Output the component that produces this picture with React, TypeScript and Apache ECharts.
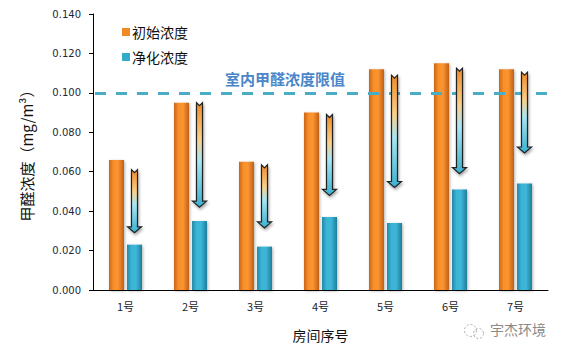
import React, { useEffect, useRef } from "react";
import * as echarts from "echarts";

const categories = ["1号", "2号", "3号", "4号", "5号", "6号", "7号"];
const initialValues = [0.066, 0.095, 0.065, 0.090, 0.112, 0.115, 0.112];
const purifiedValues = [0.023, 0.035, 0.022, 0.037, 0.034, 0.051, 0.054];
const arrowStart = [0.061, 0.095, 0.0635, 0.089, 0.109, 0.1125, 0.1105];
const arrowEnd = [0.029, 0.042, 0.0315, 0.048, 0.052, 0.059, 0.0695];
const limitValue = 0.1;
const yTicks = { min: 0, max: 0.14, interval: 0.02 };

const orangeGrad = new echarts.graphic.LinearGradient(0, 0, 1, 0, [
  { offset: 0, color: "#c9661a" },
  { offset: 0.3, color: "#f98f2a" },
  { offset: 0.6, color: "#fb9532" },
  { offset: 1, color: "#c25f16" },
]);
const blueGrad = new echarts.graphic.LinearGradient(0, 0, 1, 0, [
  { offset: 0, color: "#2288a6" },
  { offset: 0.3, color: "#3bb4d6" },
  { offset: 0.6, color: "#3db6d8" },
  { offset: 1, color: "#1f7e9b" },
]);

export default function App() {
  const ref = useRef<HTMLDivElement>(null);
  useEffect(() => {
    if (!ref.current) return;
    const chart = echarts.init(ref.current, null, { renderer: "svg" });
    const arrowData = categories.map((_, i) => [i, arrowStart[i], arrowEnd[i]]);
    chart.setOption({
      animation: false,
      backgroundColor: "#ffffff",
      grid: { left: 93, right: 14, top: 14, bottom: 63 },
      legend: {
        data: [
          { name: "初始浓度", itemStyle: { color: "#f08a24" } },
          { name: "净化浓度", itemStyle: { color: "#36aacb" } },
        ],
        orient: "vertical",
        left: 117,
        top: 20,
        icon: "rect",
        itemWidth: 8,
        itemHeight: 8,
        itemGap: 11,
        textStyle: { fontSize: 14, color: "#111", fontFamily: "Noto Sans CJK SC", padding: [0, 0, 0, -3] },
      },
      xAxis: {
        type: "category",
        data: categories,
        name: "房间序号",
        nameLocation: "middle",
        nameGap: 38,
        nameTextStyle: { fontSize: 14, color: "#111", fontFamily: "Noto Sans CJK SC" },
        axisLine: { lineStyle: { color: "#000", width: 1 } },
        axisTick: { inside: true, length: 4, lineStyle: { color: "#000" } },
        axisLabel: { fontSize: 11, color: "#1a1a2a", margin: 10, fontFamily: "Noto Sans CJK SC" },
      },
      yAxis: {
        type: "value",
        min: yTicks.min,
        max: yTicks.max,
        interval: yTicks.interval,
        name: "甲醛浓度（mg/m³）",
        nameLocation: "middle",
        nameGap: 59,
        nameRotate: 90,
        nameTextStyle: { fontSize: 15, color: "#111", fontFamily: "Noto Sans CJK SC" },
        axisLine: { show: true, lineStyle: { color: "#000", width: 1 } },
        axisTick: { show: true, length: 4, lineStyle: { color: "#000" } },
        splitLine: { show: false },
        axisLabel: {
          fontSize: 10,
          color: "#1a2a3a",
          margin: 12,
          fontFamily: "DejaVu Sans",
          formatter: (v: number) => v.toFixed(3),
        },
      },
      series: [
        {
          name: "初始浓度",
          type: "bar",
          data: initialValues,
          barWidth: 15,
          barGap: "20%",
          itemStyle: {
            color: orangeGrad,
            shadowColor: "rgba(0,0,0,0.3)",
            shadowBlur: 3,
            shadowOffsetX: 1,
            shadowOffsetY: 1,
          },
        },
        {
          name: "净化浓度",
          type: "bar",
          data: purifiedValues,
          barWidth: 15,
          itemStyle: {
            color: blueGrad,
            shadowColor: "rgba(0,0,0,0.3)",
            shadowBlur: 3,
            shadowOffsetX: 1,
            shadowOffsetY: 1,
          },
        },
        {
          name: "limit",
          type: "line",
          data: [],
          z: 4,
          markLine: {
            silent: true,
            symbol: ["none", "none"],
            label: { show: false },
            lineStyle: {
              color: "#4bacc6",
              width: 3,
              type: [11, 10],
              dashOffset: -2,
            },
            data: [{ yAxis: limitValue }],
          },
        },
        {
          name: "arrows",
          type: "custom",
          data: arrowData,
          encode: { x: 0, y: [1, 2] },
          z: 5,
          renderItem: (params: any, api: any) => {
            const idx = api.value(0);
            const p1 = api.coord([idx, api.value(1)]);
            const p2 = api.coord([idx, api.value(2)]);
            const x = p1[0] + 9;
            const y1 = p1[1];
            const y2 = p2[1];
            const sw = 3;
            const hw = 7;
            const hh = 6;
            const points = [
              [x - sw, y1],
              [x, y1 + 3],
              [x + sw, y1],
              [x + sw, y2 - hh],
              [x + hw, y2 - hh],
              [x, y2],
              [x - hw, y2 - hh],
              [x - sw, y2 - hh],
            ];
            return {
              type: "polygon",
              shape: { points },
              style: {
                fill: new echarts.graphic.LinearGradient(0, 0, 0, 1, [
                  { offset: 0, color: "#f08a24" },
                  { offset: 0.35, color: "#fbd08a" },
                  { offset: 0.55, color: "#a8e6f2" },
                  { offset: 1, color: "#3ab0d0" },
                ]),
                stroke: "#222",
                lineWidth: 1.2,
                shadowColor: "rgba(0,0,0,0.35)",
                shadowBlur: 3,
                shadowOffsetX: 1,
                shadowOffsetY: 2,
              },
            };
          },
        },
      ],
      graphic: [
        {
          type: "text",
          left: 225,
          top: 71,
          style: {
            text: "室内甲醛浓度限值",
            fontSize: 15,
            fontWeight: "bold",
            fill: "#4a86c8",
            fontFamily: "Noto Sans CJK SC",
          },
        },
        {
          type: "group",
          left: 462,
          top: 322,
          children: [
            { type: "circle", shape: { cx: 8, cy: 8, r: 6 }, style: { fill: "none", stroke: "#aaa", lineWidth: 1, lineDash: [2, 2] } },
            { type: "circle", shape: { cx: 16, cy: 11, r: 5 }, style: { fill: "none", stroke: "#aaa", lineWidth: 1, lineDash: [2, 2] } },
          ],
        },
        {
          type: "text",
          left: 490,
          top: 322,
          style: {
            text: "宇杰环境",
            fontSize: 14,
            fill: "#8a8a8a",
            fontFamily: "Noto Sans CJK SC",
          },
        },
      ],
    });
    return () => chart.dispose();
  }, []);
  return <div ref={ref} style={{ width: 562, height: 353, position: "absolute", left: 0, top: 0 }} />;
}
